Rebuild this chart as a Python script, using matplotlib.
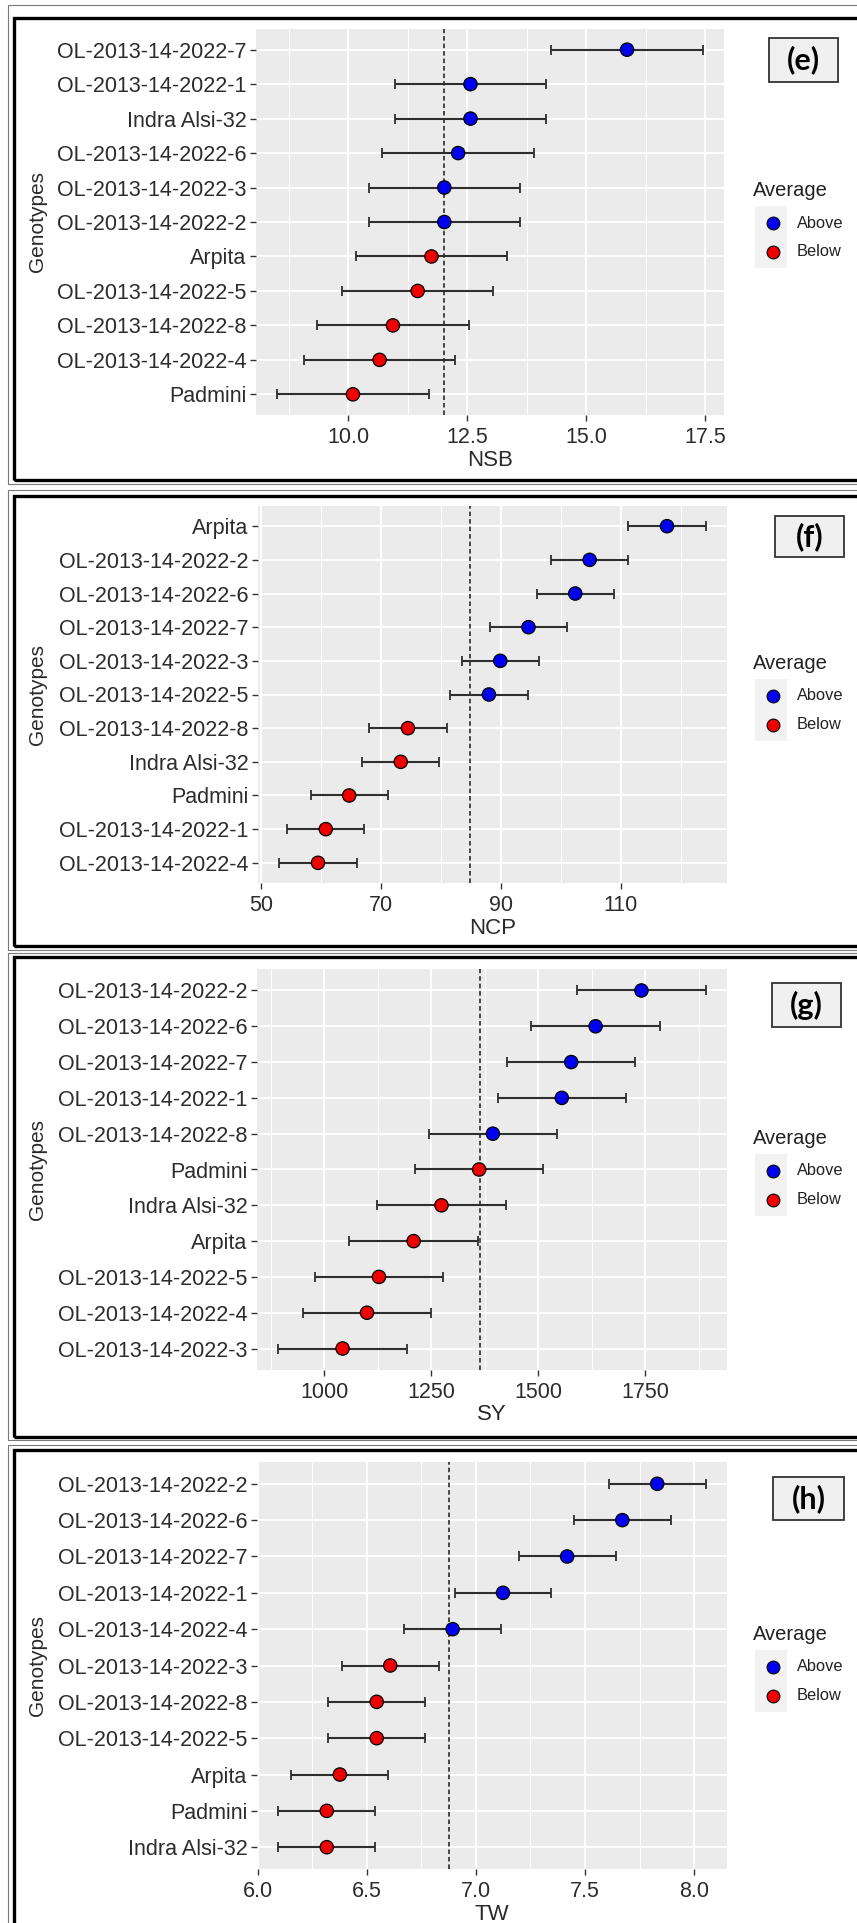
import matplotlib
matplotlib.use("Agg")
import matplotlib.pyplot as plt
from matplotlib.patches import Rectangle
from matplotlib.lines import Line2D
from matplotlib.ticker import FixedLocator

plt.rcParams['font.family'] = ['Liberation Sans', 'DejaVu Sans']

# ---------------- data ----------------
nsb_genotypes = ["OL-2013-14-2022-7", "OL-2013-14-2022-1", "Indra Alsi-32", "OL-2013-14-2022-6",
                 "OL-2013-14-2022-3", "OL-2013-14-2022-2", "Arpita", "OL-2013-14-2022-5",
                 "OL-2013-14-2022-8", "OL-2013-14-2022-4", "Padmini"]
nsb_mean = [15.86, 12.57, 12.57, 12.31, 12.02, 12.02, 11.75, 11.46, 10.94, 10.66, 10.10]
nsb_group = ["Above"] * 6 + ["Below"] * 5
nsb_err = 1.59
nsb_avg = 12.02
nsb_ticks = [10.0, 12.5, 15.0, 17.5]
nsb_ticklabels = ["10.0", "12.5", "15.0", "17.5"]

ncp_genotypes = ["Arpita", "OL-2013-14-2022-2", "OL-2013-14-2022-6", "OL-2013-14-2022-7",
                 "OL-2013-14-2022-3", "OL-2013-14-2022-5", "OL-2013-14-2022-8", "Indra Alsi-32",
                 "Padmini", "OL-2013-14-2022-1", "OL-2013-14-2022-4"]
ncp_mean = [117.7, 104.8, 102.4, 94.6, 89.9, 88.0, 74.5, 73.3, 64.7, 60.8, 59.5]
ncp_group = ["Above"] * 6 + ["Below"] * 5
ncp_err = 6.45
ncp_avg = 84.8
ncp_ticks = [50, 70, 90, 110]
ncp_ticklabels = ["50", "70", "90", "110"]

sy_genotypes = ["OL-2013-14-2022-2", "OL-2013-14-2022-6", "OL-2013-14-2022-7", "OL-2013-14-2022-1",
                "OL-2013-14-2022-8", "Padmini", "Indra Alsi-32", "Arpita",
                "OL-2013-14-2022-5", "OL-2013-14-2022-4", "OL-2013-14-2022-3"]
sy_mean = [1741, 1634, 1577, 1555, 1394, 1362, 1274, 1209, 1128, 1100, 1043]
sy_group = ["Above"] * 5 + ["Below"] * 6
sy_err = 150
sy_avg = 1365
sy_ticks = [1000, 1250, 1500, 1750]
sy_ticklabels = ["1000", "1250", "1500", "1750"]

tw_genotypes = ["OL-2013-14-2022-2", "OL-2013-14-2022-6", "OL-2013-14-2022-7", "OL-2013-14-2022-1",
                "OL-2013-14-2022-4", "OL-2013-14-2022-3", "OL-2013-14-2022-8", "OL-2013-14-2022-5",
                "Arpita", "Padmini", "Indra Alsi-32"]
tw_mean = [7.831, 7.671, 7.418, 7.124, 6.893, 6.607, 6.545, 6.545, 6.376, 6.316, 6.316]
tw_group = ["Above"] * 5 + ["Below"] * 6
tw_err = 0.222
tw_avg = 6.878
tw_ticks = [6.0, 6.5, 7.0, 7.5, 8.0]
tw_ticklabels = ["6.0", "6.5", "7.0", "7.5", "8.0"]

panel_tags = ["(e)", "(f)", "(g)", "(h)"]
x_titles = ["NSB", "NCP", "SY", "TW"]
legend_title = "Average"
legend_labels = ["Above", "Below"]
group_colors = {"Above": "#0000F0", "Below": "#EE0000"}

# ---------------- layout (pixels) ----------------
W, H = 857, 1923
fig = plt.figure(figsize=(W / 100, H / 100), dpi=100)
fig.patch.set_facecolor("white")

ax_px = [(256, 29, 724, 415),
         (258, 506, 727, 883),
         (257, 969, 727, 1370),
         (257, 1462, 727, 1869)]
frames_black = [(14, 17.7, 480.3), (14, 495.7, 946.5), (14, 956.5, 1436.5), (14, 1450, 1990)]
frames_grey = [(8, 5, 483.5), (8, 490.3, 949.5), (8, 952.5, 1439.5), (8, 1445, 1995)]
tag_boxes = [(769, 38, 838, 82), (775, 516, 844, 557), (772, 983, 841, 1027), (773, 1477, 844, 1520)]


def fx(x):
    return x / W


def fy(y):
    return 1 - y / H


for (x0, y0, y1) in frames_grey:
    fig.add_artist(Rectangle((fx(x0), fy(y1)), fx(1000 - x0), (y1 - y0) / H, transform=fig.transFigure,
                             fill=False, ec="#7a7a7a", lw=0.8, zorder=0))
for (x0, y0, y1) in frames_black:
    fig.add_artist(Rectangle((fx(x0), fy(y1)), fx(1000 - x0), (y1 - y0) / H, transform=fig.transFigure,
                             fill=False, ec="black", lw=2.4, zorder=0))

panels = [
    (nsb_genotypes, nsb_mean, nsb_group, nsb_err, nsb_avg, nsb_ticks, nsb_ticklabels),
    (ncp_genotypes, ncp_mean, ncp_group, ncp_err, ncp_avg, ncp_ticks, ncp_ticklabels),
    (sy_genotypes, sy_mean, sy_group, sy_err, sy_avg, sy_ticks, sy_ticklabels),
    (tw_genotypes, tw_mean, tw_group, tw_err, tw_avg, tw_ticks, tw_ticklabels),
]

for i, (genos, means, groups, err, avg, ticks, ticklabels) in enumerate(panels):
    x0, y0, x1, y1 = ax_px[i]
    ax = fig.add_axes([fx(x0), fy(y1), (x1 - x0) / W, (y1 - y0) / H])
    ax.set_facecolor("#EBEBEB")
    for s in ax.spines.values():
        s.set_visible(False)

    n = len(genos)
    ypos = list(range(n, 0, -1))
    lo = min(m - err for m in means)
    hi = max(m + err for m in means)
    pad = 0.05 * (hi - lo)
    ax.set_xlim(lo - pad, hi + pad)
    ax.set_ylim(0.4, n + 0.6)

    step = ticks[1] - ticks[0]
    minors = [t - step / 2 for t in ticks] + [ticks[-1] + step / 2]
    ax.xaxis.set_major_locator(FixedLocator(ticks))
    ax.xaxis.set_minor_locator(FixedLocator(minors))
    ax.set_xticklabels(ticklabels)
    ax.set_yticks(ypos)
    ax.set_yticklabels(genos)

    ax.grid(which="major", color="white", lw=1.4, zorder=0)
    ax.grid(which="minor", axis="x", color="white", lw=0.7, zorder=0)
    ax.set_axisbelow(True)

    ax.tick_params(axis="both", which="major", length=4.3, width=1.0, color="#333333",
                   labelsize=15.5, labelcolor="#2c2c2c")
    ax.tick_params(axis="x", which="major", pad=4)
    ax.tick_params(axis="y", which="major", pad=2.5)
    ax.tick_params(which="minor", length=0)

    ax.axvline(avg, color="#1a1a1a", lw=1.1, ls=(0, (3.0, 1.9)), zorder=2)
    ax.errorbar(means, ypos, xerr=err, fmt="none", ecolor="#2e2e2e", elinewidth=1.5,
                capsize=3.9, capthick=1.3, zorder=3)
    cols = [group_colors[g] for g in groups]
    ax.scatter(means, ypos, s=92, c=cols, edgecolors="black", linewidths=0.9, zorder=4)

    axw, axh = x1 - x0, y1 - y0
    ax.set_xlabel(x_titles[i], fontsize=16, color="#2a2a2a")
    ax.xaxis.set_label_coords(0.5, -45 / axh)
    ax.xaxis.label.set_va("center")
    ax.set_ylabel("Genotypes", fontsize=15, color="#2a2a2a")
    ax.yaxis.set_label_coords((38 - x0) / axw, 0.5)
    ax.yaxis.label.set_va("center")

    # legend (manual, ggplot style)
    cy = (y0 + y1) / 2
    fig.add_artist(Rectangle((fx(755), fy(cy + 46)), 32 / W, 62 / H, transform=fig.transFigure,
                             fc="#F2F2F2", ec="none", zorder=1))
    fig.text(fx(753), fy(cy - 31), legend_title, fontsize=14.5, color="#222222",
             ha="left", va="center")
    for lab, dy in zip(legend_labels, [1, 30]):
        fig.add_artist(Line2D([fx(773)], [fy(cy + dy)], transform=fig.transFigure, marker="o",
                              ms=9.2, mfc=group_colors[lab], mec="black", mew=0.8, ls="none",
                              zorder=2))
        fig.text(fx(797), fy(cy + dy), lab, fontsize=11.8, color="#222222", ha="left", va="center")

    # panel tag box
    bx0, by0, bx1, by1 = tag_boxes[i]
    fig.add_artist(Rectangle((fx(bx0), fy(by1)), (bx1 - bx0) / W, (by1 - by0) / H,
                             transform=fig.transFigure, fc="#F0F0F0", ec="#333333", lw=1.3, zorder=1))
    fig.text(fx((bx0 + bx1) / 2), fy((by0 + by1) / 2), panel_tags[i], fontsize=22,
             fontweight="bold", family=["Lato", "DejaVu Sans"], color="black",
             ha="center", va="center", zorder=2)

fig.savefig("out.png", dpi=100, facecolor="white")
